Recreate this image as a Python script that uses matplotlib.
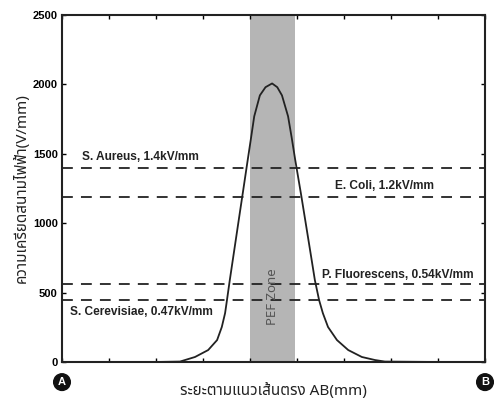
import numpy as np
import matplotlib
matplotlib.use("Agg")
import matplotlib.pyplot as plt

plt.rcParams['font.family'] = ['Noto Sans Thai', 'Loma', 'Garuda', 'Tlwg Typo', 'Noto Sans', 'DejaVu Sans']

# field along line AB
dist = [0, 1, 2, 2.51, 2.83, 3.11, 3.30, 3.40, 3.47, 3.51, 3.57, 3.68, 3.79, 3.85, 3.94, 4.02, 4.09, 4.21, 4.33,
        4.47, 4.58, 4.68, 4.81, 4.89, 4.96, 5.02, 5.09, 5.20, 5.30, 5.38, 5.47, 5.55, 5.66, 5.85, 6.09, 6.38, 6.66, 6.87, 8, 9]
field = [0, 0, 0, 3, 36, 86, 158, 252, 352, 446, 590, 840, 1090, 1225, 1430, 1610, 1770, 1921, 1980,
         2007, 1980, 1921, 1770, 1610, 1460, 1340, 1200, 970, 760, 590, 446, 352, 252, 158, 86, 36, 14, 3, 0, 0]

zone = [4.0, 4.95]
zone_label = "PEF Zone"

thresh_names = ["S. Aureus, 1.4kV/mm", "E. Coli, 1.2kV/mm", "P. Fluorescens, 0.54kV/mm", "S. Cerevisiae, 0.47kV/mm"]
thresh_vals = [1400, 1190, 565, 450]
label_pos = [(0.43, 1478), (5.81, 1265), (5.53, 628), (0.17, 360)]

yticks = [0, 500, 1000, 1500, 2000, 2500]

fig = plt.figure(figsize=(4.94, 4.07), dpi=100)
ax = fig.add_axes([0.1255, 0.1106, 0.8563, 0.8525])

ax.axvspan(zone[0], zone[1], color='#b5b5b5', lw=0, zorder=0)
ax.text(sum(zone) / 2, 470, zone_label, rotation=90, ha='center', va='center', fontsize=9.5, color='#555555')

for v in thresh_vals:
    ax.plot([0, 9], [v, v], color='#222222', lw=1.3, dashes=(6, 4.5), zorder=2)
for name, (lx, ly) in zip(thresh_names, label_pos):
    ax.text(lx, ly, name, ha='left', va='center', fontsize=8.6, fontweight='bold', color='#222222',
            family=['Liberation Sans', 'DejaVu Sans'])

ax.plot(dist, field, color='#222222', lw=1.3, zorder=3)

ax.set_xlim(0, 9)
ax.set_ylim(0, 2500)
ax.set_xticks(np.arange(0, 10))
ax.set_xticklabels([])
ax.set_yticks(yticks)
ax.set_yticklabels([str(t) for t in yticks], fontsize=8, fontweight='bold', family=['Liberation Sans', 'DejaVu Sans'])
ax.tick_params(direction='in', length=3, width=1, top=True, right=True, pad=3)
for s in ax.spines.values():
    s.set_linewidth(1.5)
    s.set_color('#222222')

# A / B end markers
for xx, lab in [(0, 'A'), (9, 'B')]:
    ax.text(xx, -0.058, lab, transform=ax.get_xaxis_transform(), ha='center', va='center', fontsize=8,
            fontweight='bold', color='white', clip_on=False, family=['Liberation Sans', 'DejaVu Sans'],
            bbox=dict(boxstyle='circle,pad=0.3', fc='#111111', ec='#111111'))

ax.set_xlabel("ระยะตามแนวเส้นตรง AB(mm)", fontsize=11, labelpad=12, color='#222222')
ax.set_ylabel("ความเครียดสนามไฟฟ้า(V/mm)", fontsize=11, labelpad=2, color='#222222')

fig.savefig("out.png", dpi=100)
